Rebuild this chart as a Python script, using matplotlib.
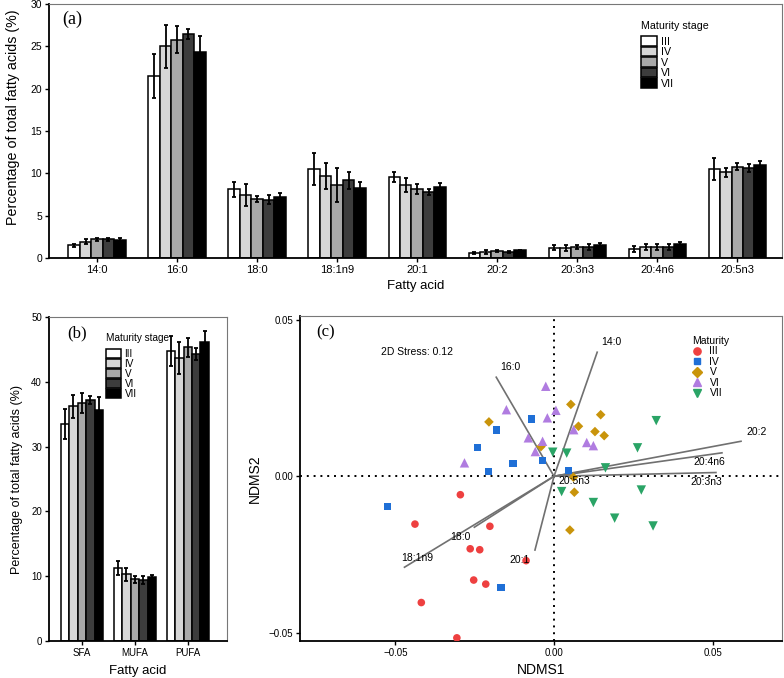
import numpy as np
import matplotlib
matplotlib.use('Agg')
import matplotlib.pyplot as plt
from matplotlib.patches import Patch
from matplotlib.lines import Line2D

plt.rcParams['font.family'] = ['Liberation Sans', 'DejaVu Sans']

# ---- data ----
stages = ["III", "IV", "V", "VI", "VII"]
stage_grays = ["#ffffff", "#d6d6d6", "#a9a9a9", "#3d3d3d", "#000000"]

fa_names = ["14:0", "16:0", "18:0", "18:1n9", "20:1", "20:2", "20:3n3", "20:4n6", "20:5n3"]
# rows = fatty acid, cols = stage III..VII
fa_mean = [
    [1.5, 1.9, 2.2, 2.2, 2.1],
    [21.5, 25.0, 25.8, 26.5, 24.3],
    [8.1, 7.4, 7.0, 6.9, 7.2],
    [10.5, 9.7, 8.6, 9.2, 8.3],
    [9.6, 8.6, 8.1, 7.8, 8.4],
    [0.6, 0.7, 0.8, 0.7, 0.9],
    [1.2, 1.2, 1.3, 1.3, 1.5],
    [1.1, 1.3, 1.3, 1.3, 1.6],
    [10.5, 10.1, 10.8, 10.6, 11.0],
]
fa_err = [
    [0.15, 0.3, 0.15, 0.2, 0.25],
    [2.6, 2.55, 1.6, 0.6, 1.95],
    [0.85, 1.3, 0.35, 0.55, 0.45],
    [1.9, 1.55, 2.0, 1.0, 0.7],
    [0.6, 0.8, 0.6, 0.4, 0.4],
    [0.15, 0.2, 0.15, 0.12, 0.1],
    [0.3, 0.35, 0.25, 0.3, 0.25],
    [0.35, 0.35, 0.3, 0.35, 0.3],
    [1.3, 0.55, 0.4, 0.45, 0.45],
]

class_names = ["SFA", "MUFA", "PUFA"]
class_mean = [
    [33.5, 36.2, 36.7, 37.2, 35.7],
    [11.3, 10.3, 9.5, 9.4, 9.9],
    [44.7, 43.7, 45.3, 44.3, 46.1],
]
class_err = [
    [2.3, 1.8, 1.5, 0.6, 1.9],
    [1.1, 1.0, 0.5, 0.6, 0.3],
    [2.3, 2.5, 1.4, 0.9, 1.8],
]

# NMDS scores per stage (NDMS1, NDMS2)
nmds_x = {
    "III": [-0.0295, -0.0438, -0.0202, -0.0264, -0.0234, -0.0088, -0.0253, -0.0215, -0.0418, -0.0306],
    "IV": [-0.0525, -0.0070, -0.0182, -0.0241, -0.0129, -0.0207, -0.0036, 0.0045, -0.0167],
    "V": [-0.0205, 0.0053, 0.0147, 0.0077, 0.0129, 0.0158, -0.0041, 0.0061, 0.0064, 0.0050],
    "VI": [-0.0026, -0.0150, 0.0006, -0.0021, 0.0062, -0.0081, -0.0036, 0.0103, 0.0124, -0.0059, -0.0282],
    "VII": [0.0322, 0.0263, -0.0004, 0.0040, 0.0162, 0.0024, 0.0275, 0.0124, 0.0191, 0.0312],
}
nmds_y = {
    "III": [-0.0059, -0.0153, -0.0160, -0.0232, -0.0235, -0.0270, -0.0332, -0.0345, -0.0404, -0.0517],
    "IV": [-0.0096, 0.0183, 0.0148, 0.0093, 0.0041, 0.0015, 0.0051, 0.0019, -0.0355],
    "V": [0.0174, 0.0230, 0.0197, 0.0160, 0.0143, 0.0130, 0.0095, -0.0003, -0.0051, -0.0172],
    "VI": [0.0288, 0.0213, 0.0211, 0.0187, 0.0149, 0.0123, 0.0112, 0.0108, 0.0098, 0.0079, 0.0043],
    "VII": [0.0178, 0.0091, 0.0077, 0.0074, 0.0027, -0.0049, -0.0044, -0.0084, -0.0134, -0.0159],
}
stage_colors = {"III": "#ee4040", "IV": "#1f6fd6", "V": "#c9940b", "VI": "#b07ce0", "VII": "#2aa466"}
stage_markers = {"III": "o", "IV": "s", "V": "D", "VI": "^", "VII": "v"}
stage_msize = {"III": 30, "IV": 28, "V": 24, "VI": 46, "VII": 46}

vec_names = ["14:0", "16:0", "20:2", "20:4n6", "20:3n3", "20:5n3", "18:0", "18:1n9", "20:1"]
vec_x = [0.0136, -0.0182, 0.0589, 0.0529, 0.0510, 0.0108, -0.0251, -0.0471, -0.0060]
vec_y = [0.0397, 0.0317, 0.0112, 0.0075, 0.0012, 0.0018, -0.0163, -0.0291, -0.0236]
lab_x = [0.0181, -0.0138, 0.0638, 0.0490, 0.0479, 0.0064, -0.0295, -0.0431, -0.0107]
lab_y = [0.0429, 0.0349, 0.0141, 0.0045, -0.0019, -0.0014, -0.0193, -0.0262, -0.0268]


def grouped_bars(ax, means, errs, width):
    means = np.array(means)
    errs = np.array(errs)
    x = np.arange(means.shape[0])
    n = len(stages)
    for i, st in enumerate(stages):
        pos = x + (i - (n - 1) / 2) * width
        ax.bar(pos, means[:, i], width, color=stage_grays[i], edgecolor="black",
               linewidth=1.1, label=st, zorder=2)
        ax.errorbar(pos, means[:, i], yerr=errs[:, i], fmt="none", ecolor="black",
                    elinewidth=1.3, capsize=1.6, capthick=1.3, zorder=3)


def style_axes(ax, fs):
    ax.tick_params(labelsize=fs, length=3, width=1, direction="out", pad=2)
    for s in ["top", "right"]:
        ax.spines[s].set_color("#777777")
        ax.spines[s].set_linewidth(0.8)
    for s in ["left", "bottom"]:
        ax.spines[s].set_linewidth(1.3)


def stage_legend(ax, loc_xy, fs):
    handles = [Patch(facecolor=c, edgecolor="black", linewidth=1.1) for c in stage_grays]
    leg = ax.legend(handles, stages, title="Maturity stage", loc="upper left",
                    bbox_to_anchor=loc_xy, frameon=False, fontsize=fs,
                    title_fontsize=fs, handlelength=1.5, handleheight=1.0,
                    labelspacing=0.0, handletextpad=0.4, borderpad=0)
    leg._legend_box.align = "left"
    leg._legend_box.sep = 4


fig = plt.figure(figsize=(7.84, 6.78), dpi=100)

# ---- (a) ----
axa = fig.add_axes([0.0625, 0.6195, 0.935, 0.3746])
grouped_bars(axa, fa_mean, fa_err, 0.143)
axa.set_xlim(-0.6, 8.56)
axa.set_ylim(0, 30)
axa.set_yticks(np.arange(0, 31, 5))
axa.set_xticks(np.arange(len(fa_names)))
axa.set_xticklabels(fa_names)
axa.set_xlabel("Fatty acid", fontsize=9.5, labelpad=4)
axa.set_ylabel("Percentage of total fatty acids (%)", fontsize=10.3)
axa.yaxis.set_label_coords(-0.04, 0.555)
style_axes(axa, 8)
axa.tick_params(axis="y", labelsize=7.5)
axa.text(0.018, 0.975, "(a)", transform=axa.transAxes, fontsize=13,
         family="Liberation Serif", va="top")
stage_legend(axa, (0.8, 0.955), 7.7)

# ---- (b) ----
axb = fig.add_axes([0.0625, 0.0546, 0.227, 0.4778])
grouped_bars(axb, class_mean, class_err, 0.16)
axb.set_xlim(-0.62, 2.74)
axb.set_ylim(0, 50)
axb.set_yticks(np.arange(0, 51, 10))
axb.set_xticks(np.arange(len(class_names)))
axb.set_xticklabels(class_names)
axb.set_xlabel("Fatty acid", fontsize=9.5, labelpad=5)
axb.set_ylabel("Percentage of total fatty acids (%)", fontsize=9, labelpad=6)
style_axes(axb, 7)
axb.text(0.1, 0.975, "(b)", transform=axb.transAxes, fontsize=12,
         family="Liberation Serif", va="top")
stage_legend(axb, (0.29, 0.965), 7.2)

# ---- (c) ----
axc = fig.add_axes([0.3827, 0.0546, 0.6147, 0.4794])
axc.axhline(0, color="black", linestyle=(0, (1, 2.5)), linewidth=1.4, zorder=1)
axc.axvline(0, color="black", linestyle=(0, (1, 2.5)), linewidth=1.4, zorder=1)
for vx, vy in zip(vec_x, vec_y):
    axc.plot([0, vx], [0, vy], color="#707070", linewidth=1.2, zorder=2)
for st in stages:
    axc.scatter(nmds_x[st], nmds_y[st], s=stage_msize[st], marker=stage_markers[st],
                color=stage_colors[st], edgecolors="none", zorder=3, label=st)
for name, tx, ty in zip(vec_names, lab_x, lab_y):
    axc.text(tx, ty, name, fontsize=7.5, ha="center", va="center", zorder=4)
axc.text(-0.0431, 0.0399, "2D Stress: 0.12", fontsize=7.5, ha="center", va="center")
axc.set_xlim(-0.08, 0.0718)
axc.set_ylim(-0.0527, 0.0513)
axc.set_xticks([-0.05, 0, 0.05])
axc.set_xticklabels(["\u22120.05", "0.00", "0.05"])
axc.set_yticks([-0.05, 0, 0.05])
axc.set_yticklabels(["\u22120.05", "0.00", "0.05"])
axc.set_xlabel("NDMS1", fontsize=10, labelpad=4)
axc.set_ylabel("NDMS2", fontsize=10, labelpad=5)
style_axes(axc, 7)
axc.text(0.033, 0.975, "(c)", transform=axc.transAxes, fontsize=12,
         family="Liberation Serif", va="top")
handles = [Line2D([], [], linestyle="none", marker=stage_markers[st], color=stage_colors[st],
                  markersize=np.sqrt(stage_msize[st]) * 0.95) for st in stages]
leg = axc.legend(handles, stages, title="Maturity", loc="upper left",
                 bbox_to_anchor=(0.802, 0.955), frameon=False, fontsize=7.5,
                 title_fontsize=7.5, labelspacing=0.05, handletextpad=0.7,
                 handlelength=1.0, borderpad=0)
leg._legend_box.align = "left"

fig.savefig("out.png", dpi=100)
